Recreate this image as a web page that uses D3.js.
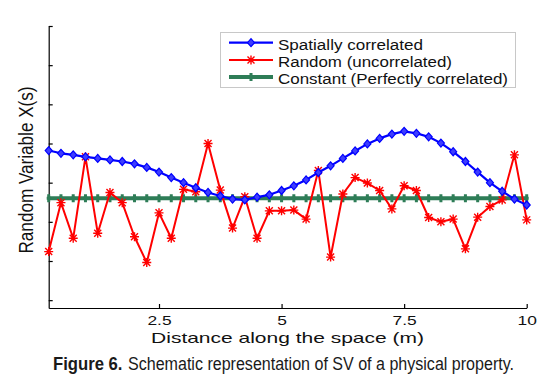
<!DOCTYPE html>
<html lang="en">
<head>
<meta charset="UTF-8">
<title>Figure 6</title>
<script src="https://d3js.org/d3.v7.min.js"></script>
<style>
  body { margin: 0; background: #fff; }
  svg text { font-family: "Liberation Sans", Arial, sans-serif; }
</style>
</head>
<body>
<script>
// distance along the space (m), step 0.25
var distance = d3.range(1, 41).map(function (i) { return i * 0.25; });

var spatial = [3.82, 3.75, 3.71, 3.66, 3.62, 3.58, 3.54, 3.48, 3.39, 3.27,
               3.13, 3.00, 2.87, 2.75, 2.66, 2.58, 2.56, 2.63, 2.69, 2.80,
               2.92, 3.07, 3.26, 3.43, 3.62, 3.81, 3.99, 4.13, 4.24, 4.31,
               4.26, 4.17, 4.01, 3.79, 3.54, 3.27, 3.00, 2.78, 2.58, 2.43];

var random = [1.24, 2.49, 1.58, 3.66, 1.71, 2.75, 2.49, 1.62, 0.96, 2.23,
              1.58, 2.83, 2.77, 4.00, 2.81, 1.84, 2.64, 1.58, 2.28, 2.28,
              2.30, 2.07, 3.31, 1.10, 2.71, 3.13, 2.99, 2.80, 2.33, 2.92,
              2.80, 2.11, 2.00, 2.07, 1.31, 2.12, 2.39, 2.56, 3.71, 2.05];

var constant = distance.map(function () { return 2.6; });

var xTicks = [2.5, 5, 7.5, 10];
var yTicks = [0, 1, 2, 3, 4, 5, 6, 7];

var seriesNames = ["Spatially correlated", "Random (uncorrelated)", "Constant (Perfectly correlated)"];

var w = 547, h = 390;
var svg = d3.select("body").append("svg").attr("width", w).attr("height", h);

var x = d3.scaleLinear().domain([0.25, 10]).range([48.7, 526.7]);
var y = d3.scaleLinear().domain([-0.2, 7]).range([308, 26]);

// axes (left + bottom only, ticks pointing inward)
var xAxis = d3.axisBottom(x).tickValues(xTicks).tickSize(-4).tickSizeOuter(0).tickPadding(8.5)
    .tickFormat(function (d) { return d; });
var yAxis = d3.axisLeft(y).tickValues(yTicks).tickSize(-4).tickSizeOuter(0).tickFormat("");

var gx = svg.append("g").attr("transform", "translate(0,308)").call(xAxis);
var gy = svg.append("g").attr("transform", "translate(48.7,0)").call(yAxis);
[gx, gy].forEach(function (g) {
    g.selectAll("path, line").attr("stroke", "#000").attr("stroke-width", 1.2);
});
// figure was stretched sideways, so the tick text is wide
gx.selectAll("text").attr("font-size", 12).attr("fill", "#111")
    .attr("font-family", "Liberation Sans, Arial, sans-serif")
    .attr("transform", "scale(1.45,1)");

var line = d3.line()
    .x(function (d) { return x(d[0]); })
    .y(function (d) { return y(d[1]); });

function pairs(vals) {
    return distance.map(function (d, i) { return [d, vals[i]]; });
}

var diamond = "M0,-4L3.5,0L0,4L-3.5,0Z";
var star = "M-3.5,-3.5L3.5,3.5M-3.5,3.5L3.5,-3.5M-4.5,0L4.5,0M0,-4.5L0,4.5";
var plus = "M0,-4L0,4M-2,0L2,0";

var series = [
    { vals: constant, color: "#2e7d57", width: 4, marker: plus, mfill: "none", mwidth: 3 },
    { vals: random, color: "#ff0000", width: 2, marker: star, mfill: "none", mwidth: 1.4 },
    { vals: spatial, color: "#0000ff", width: 2.2, marker: diamond, mfill: "#3d3dff", mwidth: 1.2 }
];

series.forEach(function (s) {
    var pts = pairs(s.vals);
    svg.append("path").datum(pts)
        .attr("d", line).attr("fill", "none")
        .attr("stroke", s.color).attr("stroke-width", s.width)
        .attr("stroke-linejoin", "round");
    svg.selectAll(null).data(pts).enter().append("path")
        .attr("transform", function (d) { return "translate(" + x(d[0]) + "," + y(d[1]) + ")"; })
        .attr("d", s.marker)
        .attr("fill", s.mfill)
        .attr("stroke", s.color).attr("stroke-width", s.mwidth);
});

// legend
var legend = svg.append("g");
legend.append("rect").attr("x", 220.5).attr("y", 32.5).attr("width", 295).attr("height", 55)
    .attr("fill", "#fff").attr("stroke", "#c8c8c8").attr("stroke-width", 1);
var legendItems = [series[2], series[1], series[0]];
var legendWidths = [145, 174, 230];
legendItems.forEach(function (s, i) {
    var yy = 42.7 + i * 17.2;
    legend.append("line").attr("x1", 229).attr("x2", 273).attr("y1", yy).attr("y2", yy)
        .attr("stroke", s.color).attr("stroke-width", s.width);
    legend.append("path").attr("transform", "translate(251," + yy + ")")
        .attr("d", s.marker).attr("fill", s.mfill)
        .attr("stroke", s.color).attr("stroke-width", s.mwidth);
    legend.append("text").attr("x", 278).attr("y", yy + 7)
        .attr("font-size", 15.5).attr("fill", "#111")
        .attr("textLength", legendWidths[i]).attr("lengthAdjust", "spacingAndGlyphs")
        .text(seriesNames[i]);
});

// axis labels
svg.append("text").attr("transform", "translate(287.5,343) scale(1.5,1)")
    .attr("text-anchor", "middle").attr("font-size", 14).attr("fill", "#111")
    .text("Distance along the space (m)");

svg.append("text").attr("transform", "translate(33,170) rotate(-90)")
    .attr("text-anchor", "middle").attr("font-size", 20).attr("fill", "#111")
    .attr("textLength", 167).attr("lengthAdjust", "spacingAndGlyphs")
    .text("Random Variable X(s)");

// caption
var capFont = "Liberation Sans Narrow, DejaVu Sans Condensed, sans-serif";
svg.append("text").attr("transform", "translate(53,370) scale(1,1.12)")
    .attr("font-size", 16).attr("font-weight", "bold").attr("fill", "#1a1a1a")
    .attr("font-family", capFont).attr("font-stretch", "condensed")
    .attr("textLength", 69.5).attr("lengthAdjust", "spacingAndGlyphs")
    .text("Figure 6.");
svg.append("text").attr("transform", "translate(128,370) scale(1,1.12)")
    .attr("font-size", 16).attr("fill", "#1a1a1a")
    .attr("font-family", capFont).attr("font-stretch", "condensed")
    .attr("textLength", 386).attr("lengthAdjust", "spacingAndGlyphs")
    .text("Schematic representation of SV of a physical property.");
</script>
</body>
</html>
